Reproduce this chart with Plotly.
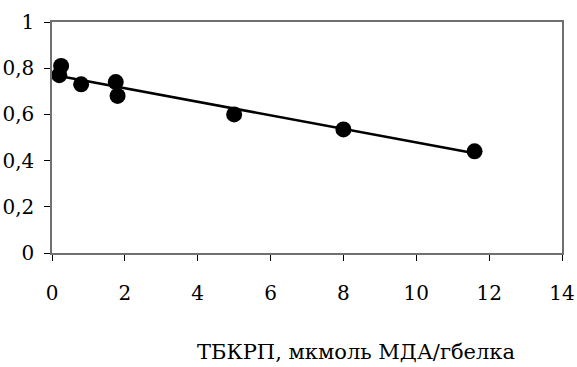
import plotly.graph_objects as go

# Data
x_vals = [0.2, 0.25, 0.8, 1.75, 1.8, 5.0, 8.0, 11.6]
y_vals = [0.77, 0.81, 0.73, 0.74, 0.68, 0.60, 0.535, 0.44]
trend_x = [0.2, 11.6]
trend_y = [0.766, 0.432]
x_title = "ТБКРП, мкмоль МДА/гбелка"

W, H = 577, 367
L, R, T, B = 51.5, 14.5, 21.5, 113.5

fig = go.Figure()
fig.add_trace(go.Scatter(x=trend_x, y=trend_y, mode="lines",
                         line=dict(color="black", width=2.6), showlegend=False,
                         hoverinfo="skip"))
fig.add_trace(go.Scatter(x=x_vals, y=y_vals, mode="markers",
                         marker=dict(color="black", size=16, symbol="circle"),
                         showlegend=False))

font_family = "DejaVu Serif"
fig.update_layout(
    template="none",
    width=W, height=H,
    margin=dict(l=L, r=R, t=T, b=B, pad=0),
    paper_bgcolor="white", plot_bgcolor="white",
    separators=", ",
    font=dict(family=font_family, size=20, color="black"),
    xaxis=dict(range=[0, 14], dtick=2, tick0=0, showgrid=False, zeroline=False,
               automargin=False,
               showline=True, linecolor="#707070", linewidth=1.5, mirror=True,
               ticks="outside", ticklen=6, tickcolor="black", tickwidth=1,
               ticklabelstandoff=15,
               tickfont=dict(size=20, family=font_family, color="black")),
    yaxis=dict(range=[0, 1], dtick=0.2, tick0=0, showgrid=False, zeroline=False,
               automargin=False,
               showline=True, linecolor="#707070", linewidth=1.5, mirror=True,
               ticks="outside", ticklen=6, tickcolor="black", tickwidth=1,
               ticklabelstandoff=6,
               tickfont=dict(size=20, family=font_family, color="black")),
    annotations=[dict(text=x_title, xref="paper", yref="paper",
                      x=(356 - L) / (W - L - R), y=-(353 - (H - B)) / (H - T - B),
                      xanchor="center", yanchor="middle", showarrow=False,
                      font=dict(size=21, family=font_family, color="black"))],
)

fig.write_html("out.html")
